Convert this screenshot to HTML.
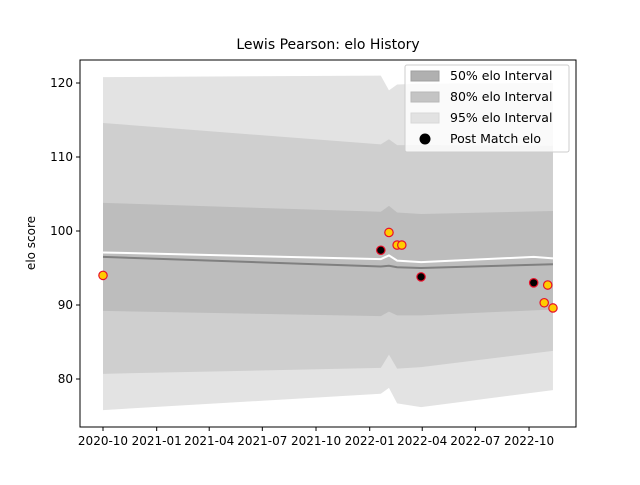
<!DOCTYPE html>
<html><head><meta charset="utf-8"><style>
body{margin:0;background:#fff}
svg text{font-family:"DejaVu Sans","Liberation Sans",sans-serif;fill:#000}
</style></head><body>
<svg id="c" width="640" height="480" viewBox="0 0 640 480">
<rect width="640" height="480" fill="#fff"/>
<g id="plot"></g>
<rect x="80" y="60" width="496" height="367" fill="none" stroke="#000" stroke-width="1"/>
<text x="328" y="49" font-size="14" text-anchor="middle">Lewis Pearson: elo History</text>
<text transform="translate(35,243) rotate(-90)" font-size="12" text-anchor="middle">elo score</text>
<g id="axes"></g>
<g>
<rect x="405" y="65" width="164" height="87" rx="2" fill="#fff" fill-opacity="0.8" stroke="#ccc"/>
<rect x="411" y="71" width="28" height="10" fill="#b0b0b0" stroke="#a0a0a0"/>
<text x="450" y="80" font-size="12.5">50% elo Interval</text>
<rect x="411" y="92" width="28" height="10" fill="#c4c4c4" stroke="#b8b8b8"/>
<text x="450" y="101" font-size="12.5">80% elo Interval</text>
<rect x="411" y="113" width="28" height="10" fill="#e2e2e2" stroke="#d8d8d8"/>
<text x="450" y="122" font-size="12.5">95% elo Interval</text>
<circle cx="425" cy="139" r="5.5" fill="#000"/>
<text x="450" y="143" font-size="12.5">Post Match elo</text>
</g>
</svg>
<script>
// days since 2020-10-01
const bandDays=[0,476,490,504,545,771];
const upper95=[120.8,121.0,119.0,119.8,119.9,120.0];
const lower95=[75.8,78.0,78.8,76.7,76.2,78.5];
const upper80=[114.6,111.7,112.4,111.6,111.6,111.5];
const lower80=[80.7,81.5,83.3,81.4,81.6,83.8];
const upper50=[103.8,102.6,103.4,102.5,102.3,102.7];
const lower50=[89.2,88.5,89.1,88.6,88.6,89.4];
const meanLine=[96.5,95.2,95.3,95.1,95.0,95.5];
const whiteDays=[0,476,490,504,545,738,771];
const whiteLine=[97.1,96.2,96.7,96.0,95.8,96.5,96.3];
const matchDays=[0,476,490,504,512,545,738,756,762,771];
const matchElo=[94.0,97.4,99.8,98.1,98.1,93.8,93.0,90.3,92.7,89.6];
const matchBlack=[false,true,false,false,false,true,true,false,false,false];
const xTickDays=[0,92,182,273,365,457,547,638,730];
const xTickLabels=["2020-10","2021-01","2021-04","2021-07","2021-10","2022-01","2022-04","2022-07","2022-10"];
const yTicks=[80,90,100,110,120];

const NS="http://www.w3.org/2000/svg";
const X=d=>103+d*0.5836;
const Y=v=>231-(v-100)*7.4;
const plot=document.getElementById('plot'),axes=document.getElementById('axes');
function mk(t,a,p){const e=document.createElementNS(NS,t);for(const k in a)e.setAttribute(k,a[k]);p.appendChild(e);return e;}
function band(up,lo,fill,name){
  let d='M'+bandDays.map((t,i)=>X(t)+','+Y(up[i])).join('L');
  d+='L'+bandDays.map((t,i)=>X(t)+','+Y(lo[i])).reverse().join('L')+'Z';
  const e=mk('path',{d:d,fill:fill},plot);
  
  
}
band(upper95,lower95,'#e3e3e3','band-95');
band(upper80,lower80,'#cfcfcf','band-80');
band(upper50,lower50,'#bdbdbd','band-50');
let e=mk('polyline',{points:bandDays.map((t,i)=>X(t)+','+Y(meanLine[i])).join(' '),fill:'none',stroke:'#808080','stroke-width':2},plot);


e=mk('polyline',{points:whiteDays.map((t,i)=>X(t)+','+Y(whiteLine[i])).join(' '),fill:'none',stroke:'#fff','stroke-width':2},plot);


matchDays.forEach((t,i)=>{
  const c=mk('circle',{cx:X(t),cy:Y(matchElo[i]),r:4.2,fill:matchBlack[i]?'#000':'#ffcc00',stroke:'#e8102a','stroke-width':1.2},plot);
  
  
});
yTicks.forEach(v=>{
  mk('line',{x1:76,x2:80,y1:Y(v),y2:Y(v),stroke:'#000'},axes);
  const t=mk('text',{x:73,y:Y(v)+4,'font-size':12,'text-anchor':'end'},axes);t.textContent=v;
  
  
});
xTickDays.forEach((d,i)=>{
  mk('line',{x1:X(d),x2:X(d),y1:427,y2:431,stroke:'#000'},axes);
  const t=mk('text',{x:X(d),y:445,'font-size':12,'text-anchor':'middle'},axes);t.textContent=xTickLabels[i];
  
  
});
</script>
</body></html>
